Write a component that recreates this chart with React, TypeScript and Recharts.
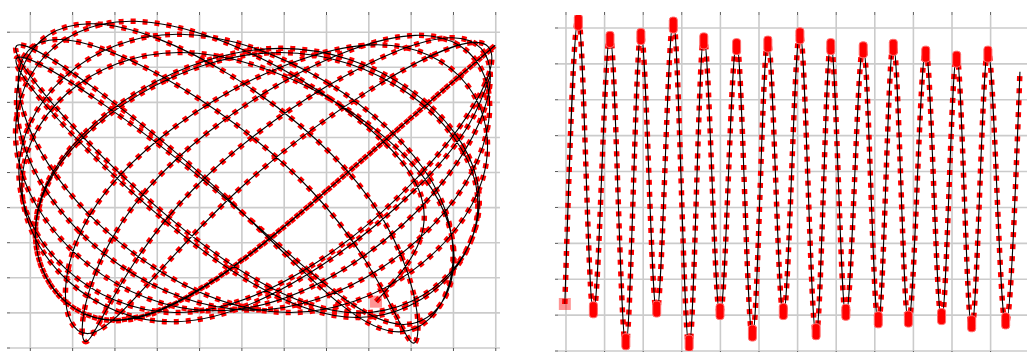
import { CartesianGrid, Line, LineChart, XAxis, YAxis } from "recharts";

// left panel: phase plot, points along the path in grid units
const leftU = [
  8.17, 8.78, 2.47, -0.25, 4.28, 9.89, 9.9, 3.84, 1.31, 2.78, 9.1, 10.43, 5.2, 0.05, 1.51, 7.74, 9.06, 6.66, 0.72, 0.62,
  6.12, 10.69, 8.14, 1.83, 1.35, 4.97, 10.49, 9.15, 3.41, -0.27, 3.55, 9.51, 8.72, 4.4, -0.24, 2.26, 7.78, 10.56, 5.9,
  0.38, 2.03, 7.21, 10.98, 7.22, 2.02, 0.39, 5.9, 10.53, 7.74, 2.28, -0.24, 4.4, 8.83, 9.48, 3.55, -0.2, 3.47, 9.09, 10.88
];
const leftV = [
  1.32, 5.31, 9.31, 5.19, 1.06, 4.95, 8.84, 4.51, 0.18, 4.55, 8.91, 5.0, 1.08, 5.16, 9.24, 4.69, 0.14, 4.46, 8.79, 4.9,
  1.01, 4.82, 8.64, 4.52, 0.41, 4.56, 8.71, 4.86, 1.01, 4.98, 8.94, 4.7, 0.46, 4.55, 8.64, 4.81, 1.0, 4.77, 8.54, 4.66,
  0.78, 4.7, 8.62, 4.71, 0.8, 4.61, 8.42, 4.65, 0.87, 4.58, 8.29, 4.48, 0.67, 4.55, 8.42, 4.59, 0.75, 4.51, 7.8
];

// right panel: time signal, peaks and troughs
const rightU = [
  -0.03, 0.32, 0.71, 1.14, 1.55, 1.94, 2.35, 2.78, 3.19, 3.57, 3.99, 4.42, 4.83, 5.23, 5.63, 6.06, 6.48, 6.86, 7.25, 7.7,
  8.09, 8.48, 8.87, 9.32, 9.73, 10.12, 10.51, 10.93, 11.39, 11.76
];
const rightV = [
  1.31, 9.3, 1.01, 8.82, 0.12, 8.9, 1.03, 9.22, 0.08, 8.78, 0.96, 8.62, 0.36, 8.69, 0.96, 8.92, 0.4, 8.62, 0.94, 8.53,
  0.73, 8.6, 0.75, 8.41, 0.82, 8.27, 0.62, 8.41, 0.7, 7.78
];

const xTicks = [0, 1, 2, 3, 4, 5, 6, 7, 8, 9, 10, 11];
const yTicks = [0, 1, 2, 3, 4, 5, 6, 7, 8, 9];

const leftData = leftU.map((u, i) => ({ u, v: leftV[i] }));
const rightData = rightU.map((u, i) => ({ u, v: rightV[i] }));

const leftDomX: [number, number] = [-0.48, 11.1];
const leftDomY: [number, number] = [0, 9.49];
const rightDomX: [number, number] = [-0.207, 11.943];
const rightDomY: [number, number] = [0, 9.362];

const RED = "#ff0000";
const GRID = "#cbcbcb";
const TICK = "#555";

const emptyTick = () => <g />;

// grid only at the ticks, no lines on the plot edges
const vGrid = (dom: [number, number]) => (p: any) => {
  const o = p?.offset;
  if (!o) return [];
  return xTicks.map((t) => o.left + ((t - dom[0]) / (dom[1] - dom[0])) * o.width);
};
const hGrid = (dom: [number, number]) => (p: any) => {
  const o = p?.offset;
  if (!o) return [];
  return yTicks.map((t) => o.top + ((dom[1] - t) / (dom[1] - dom[0])) * o.height);
};

function startDot(props: any) {
  const { cx, cy, index } = props;
  if (index !== 0) return <g key={`d${index}`} />;
  return <rect key="start" x={cx - 6} y={cy - 6} width={12} height={12} fill={RED} fillOpacity={0.42} />;
}

function waveDot(props: any) {
  const { cx, cy, index, payload } = props;
  if (index === 0) return startDot(props);
  if (index === rightData.length - 1) return <g key={`d${index}`} />;
  const peak = payload.v > 4.5;
  return (
    <rect
      key={`d${index}`}
      x={cx - 4}
      y={peak ? cy - 3 : cy - 13}
      width={8}
      height={16}
      rx={3}
      fill={RED}
      stroke="#ff7070"
      strokeWidth={1}
    />
  );
}

export default function App() {
  const axisCommon = {
    tick: emptyTick,
    tickSize: 3,
    axisLine: false,
    tickLine: { stroke: TICK },
    allowDataOverflow: true,
    interval: 0 as const
  };
  return (
    <div style={{ position: "absolute", left: 0, top: 0, width: 1027, height: 352, background: "#fff" }}>
      <div style={{ position: "absolute", left: 0, top: 0 }}>
        <LineChart width={510} height={352} data={leftData} margin={{ top: 14, right: 10, bottom: 3, left: 9 }}>
          <CartesianGrid
            stroke={GRID}
            strokeWidth={1.6}
            verticalCoordinatesGenerator={vGrid(leftDomX)}
            horizontalCoordinatesGenerator={hGrid(leftDomY)}
          />
          <XAxis type="number" dataKey="u" domain={leftDomX} ticks={xTicks} orientation="top" height={1} {...axisCommon} />
          <XAxis xAxisId="b" type="number" dataKey="u" domain={leftDomX} ticks={xTicks} orientation="bottom" height={1} {...axisCommon} />
          <YAxis type="number" dataKey="v" domain={leftDomY} ticks={yTicks} width={1} {...axisCommon} />
          <Line
            type="natural"
            dataKey="v"
            stroke={RED}
            strokeWidth={5.5}
            strokeDasharray="5 7"
            dot={startDot}
            activeDot={false}
            isAnimationActive={false}
          />
          <Line type="natural" dataKey="v" stroke="#000" strokeWidth={1.1} dot={false} activeDot={false} isAnimationActive={false} />
        </LineChart>
      </div>
      <div style={{ position: "absolute", left: 545, top: 0 }}>
        <LineChart width={482} height={352} data={rightData} margin={{ top: 14, right: 0, bottom: 0, left: 12 }}>
          <CartesianGrid
            stroke={GRID}
            strokeWidth={1.6}
            verticalCoordinatesGenerator={vGrid(rightDomX)}
            horizontalCoordinatesGenerator={hGrid(rightDomY)}
          />
          <XAxis type="number" dataKey="u" domain={rightDomX} ticks={xTicks} orientation="top" height={1} {...axisCommon} />
          <XAxis xAxisId="b" type="number" dataKey="u" domain={rightDomX} ticks={xTicks} orientation="bottom" height={1} {...axisCommon} />
          <YAxis type="number" dataKey="v" domain={rightDomY} ticks={yTicks} width={1} {...axisCommon} />
          <Line
            type="monotone"
            dataKey="v"
            stroke={RED}
            strokeWidth={5.5}
            strokeDasharray="5 7"
            dot={waveDot}
            activeDot={false}
            isAnimationActive={false}
          />
          <Line type="monotone" dataKey="v" stroke="#000" strokeWidth={1.1} dot={false} activeDot={false} isAnimationActive={false} />
        </LineChart>
      </div>
    </div>
  );
}
